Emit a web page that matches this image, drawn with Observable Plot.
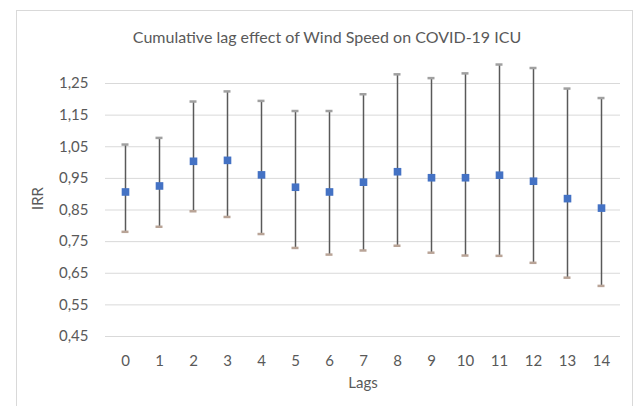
<!DOCTYPE html>
<html>
<head>
<meta charset="utf-8">
<script src="https://cdn.jsdelivr.net/npm/d3@7"></script>
<script src="https://cdn.jsdelivr.net/npm/@observablehq/plot@0.6"></script>
<style>
  html, body { margin: 0; padding: 0; background: #fff; }
  #wrap { position: relative; width: 637px; height: 406px; overflow: hidden; }
  #border { position: absolute; left: 16px; top: 10px; width: 617px; height: 420px; border: 1px solid #d9d9d9; box-sizing: border-box; }
  #chart { position: absolute; left: 0; top: 0; }
</style>
</head>
<body>
<div id="wrap"><div id="border"></div><div id="chart"></div></div>
<script>
const lags = [0, 1, 2, 3, 4, 5, 6, 7, 8, 9, 10, 11, 12, 13, 14];
const irr   = [0.907, 0.926, 1.004, 1.007, 0.961, 0.922, 0.907, 0.938, 0.971, 0.952, 0.952, 0.960, 0.941, 0.886, 0.856];
const lower = [0.781, 0.797, 0.846, 0.828, 0.774, 0.730, 0.709, 0.722, 0.737, 0.715, 0.706, 0.705, 0.683, 0.636, 0.610];
const upper = [1.057, 1.078, 1.193, 1.225, 1.195, 1.163, 1.163, 1.216, 1.279, 1.267, 1.282, 1.310, 1.299, 1.234, 1.204];
const yTicks = [0.45, 0.55, 0.65, 0.75, 0.85, 0.95, 1.05, 1.15, 1.25];
const title = "Cumulative lag effect of Wind Speed on COVID-19 ICU";
const xLabel = "Lags";
const yLabel = "IRR";

const data = lags.map((l, i) => ({lag: String(l), irr: irr[i], lo: lower[i], hi: upper[i]}));
const font = "Lato, 'Open Sans', sans-serif";
const grey = "#595959";

const chart = Plot.plot({
  width: 637,
  height: 406,
  marginLeft: 105,
  marginRight: 17,
  marginTop: 83,
  marginBottom: 70,
  style: {fontFamily: font, fontSize: "15px", color: grey, background: "transparent"},
  x: {type: "band", domain: lags.map(String), padding: 0, tickSize: 0, tickPadding: 19, label: null},
  y: {domain: [0.45, 1.25], ticks: yTicks, tickSize: 0, tickPadding: 17, label: null,
      tickFormat: d => d.toFixed(2).replace(".", ",")},
  marks: [
    Plot.gridY(yTicks, {stroke: "#d9d9d9", strokeOpacity: 1, strokeWidth: 1}),
    Plot.ruleX(data, {x: "lag", y1: "lo", y2: "hi", stroke: grey, strokeWidth: 1.5}),
    Plot.tickY(data, {x: "lag", y: "hi", stroke: "#a0a0a0", strokeWidth: 2.5, insetLeft: 13.5, insetRight: 13.5}),
    Plot.tickY(data, {x: "lag", y: "lo", stroke: "#b9a497", strokeWidth: 2.5, insetLeft: 13.5, insetRight: 13.5}),
    Plot.dot(data, {x: "lag", y: "irr", symbol: "square", r: 4.3, fill: "#4472c4", stroke: "none"}),
    Plot.text([title], {frameAnchor: "top", dy: -52, dx: -36, text: d => d, fontSize: 16, fill: grey}),
    Plot.text([xLabel], {frameAnchor: "bottom", dy: 51, dx: 0, text: d => d, fontSize: 15, fill: grey}),
    Plot.text([yLabel], {frameAnchor: "left", dx: -67, dy: 0, rotate: -90, text: d => d, fontSize: 15, fill: grey})
  ]
});
document.getElementById("chart").appendChild(chart);
</script>
</body>
</html>
